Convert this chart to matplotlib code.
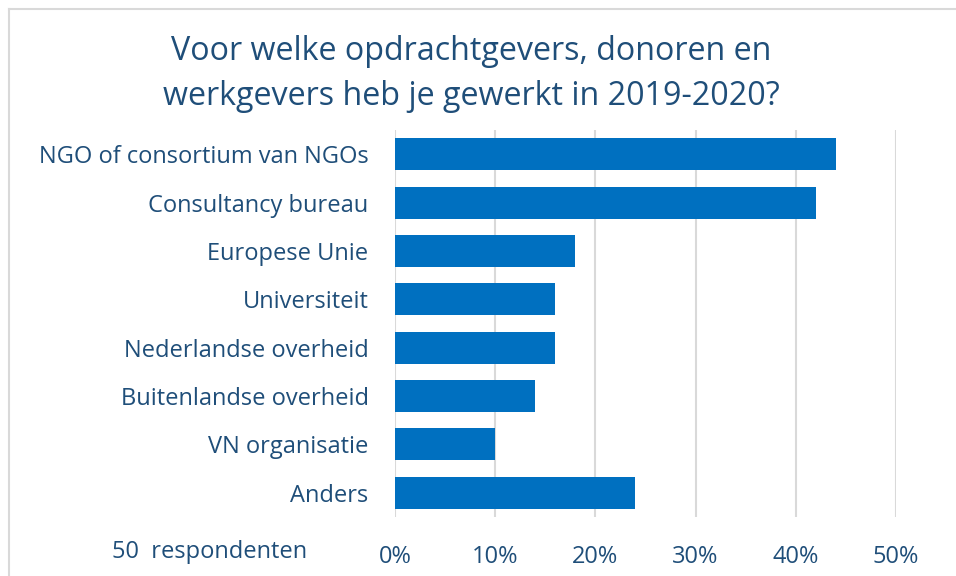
import matplotlib
matplotlib.use("Agg")
import matplotlib.pyplot as plt
from matplotlib.ticker import FuncFormatter
from matplotlib.lines import Line2D

categories = ["NGO of consortium van NGOs", "Consultancy bureau", "Europese Unie",
              "Universiteit", "Nederlandse overheid", "Buitenlandse overheid",
              "VN organisatie", "Anders"]
values = [44, 42, 18, 16, 16, 14, 10, 24]
xticks = [0, 10, 20, 30, 40, 50]
title = "Voor welke opdrachtgevers, donoren en\nwerkgevers heb je gewerkt in 2019-2020?"
note = "50  respondenten"

txt = "#1F4E79"
bar_color = "#0070C0"
grid_color = "#D9D9D9"

plt.rcParams['font.family'] = ['Open Sans', 'DejaVu Sans']

W, H = 956, 576
fig = plt.figure(figsize=(W/100, H/100), dpi=100)
ax = fig.add_axes([395/W, 1-517/H, (896-395)/W, (517-130)/H])

y = list(range(len(categories)))
ax.barh(y, values, height=0.66, color=bar_color, zorder=3)
ax.set_ylim(len(categories)-0.5, -0.5)
ax.set_xlim(0, 50)
ax.set_xticks(xticks)
ax.xaxis.set_major_formatter(FuncFormatter(lambda v, p: f"{int(v)}%"))
ax.set_yticks(y)
ax.set_yticklabels(categories)
ax.grid(axis='x', color=grid_color, linewidth=1.5, zorder=0)
for s in ax.spines.values():
    s.set_visible(False)
ax.tick_params(axis='both', length=0, colors=txt, labelsize=17)
ax.tick_params(axis='y', pad=29)
ax.tick_params(axis='y', pad=19)
ax.tick_params(axis='x', pad=20)

fig.text(471/W, 1-74/H, title, ha='center', va='center', fontsize=23.2,
         color=txt, linespacing=1.5)
fig.text(210/W, 1-552/H, note, ha='center', va='center', fontsize=17, color=txt)

# outer frame (left and top)
fig.add_artist(Line2D([8.5/W, 8.5/W], [0, 1-8.5/H], color="#D9D9D9", linewidth=1.5,
                      transform=fig.transFigure))
fig.add_artist(Line2D([8.5/W, 1], [1-8.5/H, 1-8.5/H], color="#D9D9D9", linewidth=1.5,
                      transform=fig.transFigure))

fig.savefig("out.png", dpi=100, facecolor="white")
